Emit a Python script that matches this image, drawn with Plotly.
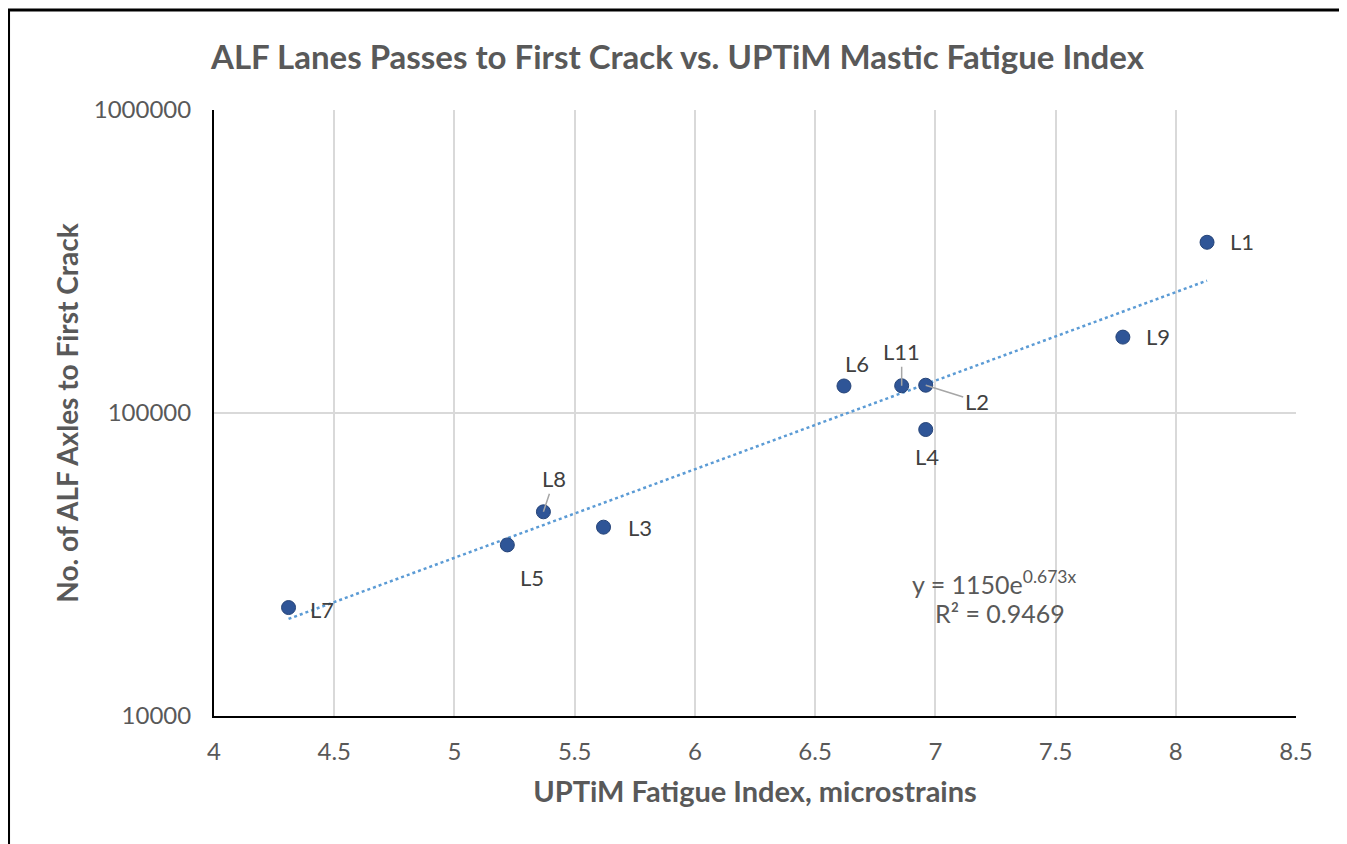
import plotly.graph_objects as go
import numpy as np

# ---- data ----
lanes = ["L1", "L9", "L6", "L11", "L2", "L4", "L8", "L3", "L5", "L7"]
fatigue_index = [8.13, 7.78, 6.62, 6.86, 6.96, 6.96, 5.37, 5.62, 5.22, 4.31]
passes = [366000, 178000, 122800, 123000, 123500, 88200, 47200, 42000, 36700, 22800]

trend_a = 1150
trend_b = 0.673
r_squared = 0.9469

x_ticks = [4, 4.5, 5, 5.5, 6, 6.5, 7, 7.5, 8, 8.5]
x_tick_text = ["4", "4.5", "5", "5.5", "6", "6.5", "7", "7.5", "8", "8.5"]
y_ticks = [10000, 100000, 1000000]
y_tick_text = ["10000", "100000", "1000000"]

# label placement (pixel offsets) and leader line flags
label_dx = {"L1": 35, "L9": 35, "L6": 13, "L11": 0, "L2": 51, "L4": 1, "L8": 11, "L3": 36, "L5": 25, "L7": 33}
label_dy = {"L1": -1, "L9": -1, "L6": -22, "L11": -34, "L2": 16, "L4": 27, "L8": -33, "L3": 0, "L5": 33, "L7": 2}
leader = {"L11", "L2", "L8"}

FONT = "Lato"
GRAY = "#595959"

fig = go.Figure()

tx = np.array([min(fatigue_index), max(fatigue_index)])
ty = trend_a * np.exp(trend_b * tx)
fig.add_trace(go.Scatter(
    x=tx, y=ty, mode="lines",
    line=dict(color="#5b9bd5", width=2.5, dash="dot"),
    hoverinfo="skip", showlegend=False,
))

fig.add_trace(go.Scatter(
    x=fatigue_index, y=passes, mode="markers",
    marker=dict(size=14, color="#2f5597", line=dict(color="#264478", width=1)),
    text=lanes, showlegend=False,
))

annotations = []
for name, xv, yv in zip(lanes, fatigue_index, passes):
    if name in leader:
        annotations.append(dict(
            x=xv, y=np.log10(yv), xref="x", yref="y", text=name,
            showarrow=True, ax=label_dx[name], ay=label_dy[name],
            arrowhead=0, arrowwidth=1.5, arrowcolor="#a6a6a6", standoff=0,
            font=dict(family=FONT, size=22, color="#404040"),
        ))
    else:
        annotations.append(dict(
            x=xv, y=np.log10(yv), xref="x", yref="y", text=name,
            showarrow=False, xshift=label_dx[name], yshift=-label_dy[name],
            xanchor="center", yanchor="middle",
            font=dict(family=FONT, size=22, color="#404040"),
        ))

annotations.append(dict(
    x=0.7218, y=0.2211, xref="paper", yref="paper", showarrow=False,
    xanchor="center", yanchor="middle",
    text=f"y = {trend_a}e<sup>{trend_b}x</sup>",
    font=dict(family=FONT, size=25, color=GRAY),
))
annotations.append(dict(
    x=0.7264, y=0.170, xref="paper", yref="paper", showarrow=False,
    xanchor="center", yanchor="middle",
    text=f"R² = {r_squared}",
    font=dict(family=FONT, size=25, color=GRAY),
))

# page body has an 8px margin: figure is placed at (8, 8) in the window
fig.update_layout(
    width=1339, height=836,
    margin=dict(l=206, r=51, t=102, b=128),
    paper_bgcolor="white", plot_bgcolor="white",
    title=dict(
        text="<b>ALF Lanes Passes to First Crack vs. UPTiM Mastic Fatigue Index</b>",
        x=0.5, xref="container", xanchor="center",
        y=1 - 49 / 836, yref="container", yanchor="middle",
        font=dict(family=FONT, size=33, color=GRAY),
    ),
    xaxis=dict(
        range=[4, 8.5], tickvals=x_ticks, ticktext=x_tick_text,
        showgrid=True, gridcolor="#d9d9d9", gridwidth=1.5,
        showline=True, linecolor="black", linewidth=2,
        zeroline=False, ticks="", ticklabelstandoff=13,
        tickfont=dict(family=FONT, size=24, color=GRAY),
        title=dict(text="<b>UPTiM Fatigue Index, microstrains</b>", standoff=18,
                   font=dict(family=FONT, size=29, color=GRAY)),
    ),
    yaxis=dict(
        type="log", range=[4, 6], tickvals=y_ticks, ticktext=y_tick_text,
        showgrid=True, gridcolor="#d9d9d9", gridwidth=1.5,
        showline=True, linecolor="black", linewidth=2,
        zeroline=False, ticks="", ticklabelstandoff=16,
        tickfont=dict(family=FONT, size=24, color=GRAY),
        title=dict(text="<b>No. of ALF Axles to First Crack</b>", standoff=7,
                   font=dict(family=FONT, size=28, color=GRAY)),
    ),
    annotations=annotations,
    shapes=[dict(
        type="rect", xref="paper", yref="paper",
        x0=-0.1899, x1=1.0434, y0=-0.35, y1=1.165,
        line=dict(color="black", width=3), fillcolor="rgba(0,0,0,0)", layer="above",
    )],
)

fig.write_html("out.html")
